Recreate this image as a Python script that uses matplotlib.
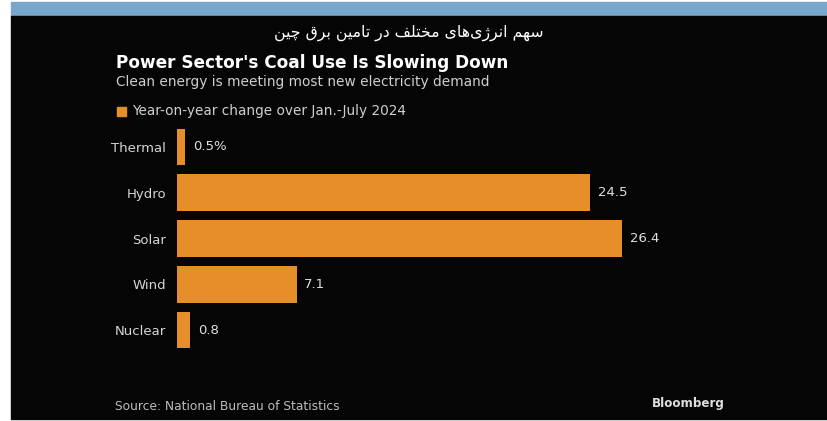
import matplotlib
matplotlib.use("Agg")
import matplotlib.pyplot as plt
from matplotlib.patches import Rectangle

# data
categories = ["Thermal", "Hydro", "Solar", "Wind", "Nuclear"]
values = [0.5, 24.5, 26.4, 7.1, 0.8]
value_labels = ["0.5%", "24.5", "26.4", "7.1", "0.8"]

header_fa = "سهم انرژی\u200cهای مختلف در تامین برق چین"
title = "Power Sector's Coal Use Is Slowing Down"
subtitle = "Clean energy is meeting most new electricity demand"
legend_label = "Year-on-year change over Jan.-July 2024"
source = "Source: National Bureau of Statistics"

ORANGE = "#E58E2A"

# tiny Persian shaper: (isolated, final, initial, medial)
FORMS = {
    "ا": ("\uFE8D", "\uFE8E", None, None),
    "ب": ("\uFE8F", "\uFE90", "\uFE91", "\uFE92"),
    "ت": ("\uFE95", "\uFE96", "\uFE97", "\uFE98"),
    "خ": ("\uFEA5", "\uFEA6", "\uFEA7", "\uFEA8"),
    "د": ("\uFEA9", "\uFEAA", None, None),
    "ر": ("\uFEAD", "\uFEAE", None, None),
    "ژ": ("\uFB8A", "\uFB8B", None, None),
    "س": ("\uFEB1", "\uFEB2", "\uFEB3", "\uFEB4"),
    "ف": ("\uFED1", "\uFED2", "\uFED3", "\uFED4"),
    "ق": ("\uFED5", "\uFED6", "\uFED7", "\uFED8"),
    "ل": ("\uFEDD", "\uFEDE", "\uFEDF", "\uFEE0"),
    "م": ("\uFEE1", "\uFEE2", "\uFEE3", "\uFEE4"),
    "ن": ("\uFEE5", "\uFEE6", "\uFEE7", "\uFEE8"),
    "ه": ("\uFEE9", "\uFEEA", "\uFEEB", "\uFEEC"),
    "چ": ("\uFB7A", "\uFB7B", "\uFB7C", "\uFB7D"),
    "ی": ("\uFBFC", "\uFBFD", "\uFBFE", "\uFBFF"),
}


def shape_fa(text):
    chars = list(text)
    out = []
    for i, c in enumerate(chars):
        if c not in FORMS:
            if c != "\u200c":
                out.append(c)
            continue
        prev = chars[i - 1] if i > 0 else None
        nxt = chars[i + 1] if i + 1 < len(chars) else None
        join_prev = prev in FORMS and FORMS[prev][2] is not None
        join_next = nxt in FORMS and FORMS[c][2] is not None
        iso, fin, ini, med = FORMS[c]
        if join_prev and join_next:
            out.append(med)
        elif join_prev:
            out.append(fin)
        elif join_next:
            out.append(ini)
        else:
            out.append(iso)
    return "".join(reversed(out))


W, H = 828, 421
fig = plt.figure(figsize=(W / 100, H / 100), dpi=100)
fig.patch.set_facecolor("white")


def px(x, y):
    return x / W, 1 - y / H


# background panels
fig.patches.append(Rectangle(px(11, 16), (827 - 11) / W, 14 / H,
                             transform=fig.transFigure, color="#7BA6CB", zorder=-2))
fig.patches.append(Rectangle(px(11, 419), (827 - 11) / W, (419 - 16) / H,
                             transform=fig.transFigure, color="#050505", zorder=-2))

fig.text(*px(409, 33), shape_fa(header_fa), color="white", fontsize=11.3,
         ha="center", va="center", family="DejaVu Sans")
fig.text(*px(116, 63), title, color="white", fontsize=12.2, fontweight="bold",
         ha="left", va="center")
fig.text(*px(116, 82), subtitle, color="#cfcfcf", fontsize=9.95,
         ha="left", va="center")
fig.patches.append(Rectangle(px(117, 116), 9 / W, 9 / H,
                             transform=fig.transFigure, color=ORANGE))
fig.text(*px(132, 111), legend_label, color="#cfcfcf", fontsize=9.8,
         ha="left", va="center")
fig.text(*px(115, 406), source, color="#bdbdbd", fontsize=8.8,
         ha="left", va="center")
fig.text(*px(652, 404), "Bloomberg", color="#dedede", fontsize=8.6,
         fontweight="bold", ha="left", va="center")

ax = fig.add_axes([177 / W, (421 - 353) / H, 506 / W, 229 / H])
ax.set_facecolor("none")
ypos = list(range(len(categories)))
ax.barh(ypos, values, height=0.8, color=ORANGE)
ax.set_xlim(0, 30)
ax.set_ylim(len(categories) - 0.5, -0.5)
ax.set_yticks(ypos)
ax.set_yticklabels(categories, color="#d6d6d6", fontsize=9.5)
ax.tick_params(axis="y", length=0, pad=8)
ax.set_xticks([])
for s in ax.spines.values():
    s.set_visible(False)
for y, v, lab in zip(ypos, values, value_labels):
    ax.text(v + 0.45, y, lab, color="#e0e0e0", fontsize=9.5, ha="left", va="center")

fig.savefig("out.png", dpi=100, facecolor=fig.get_facecolor())
